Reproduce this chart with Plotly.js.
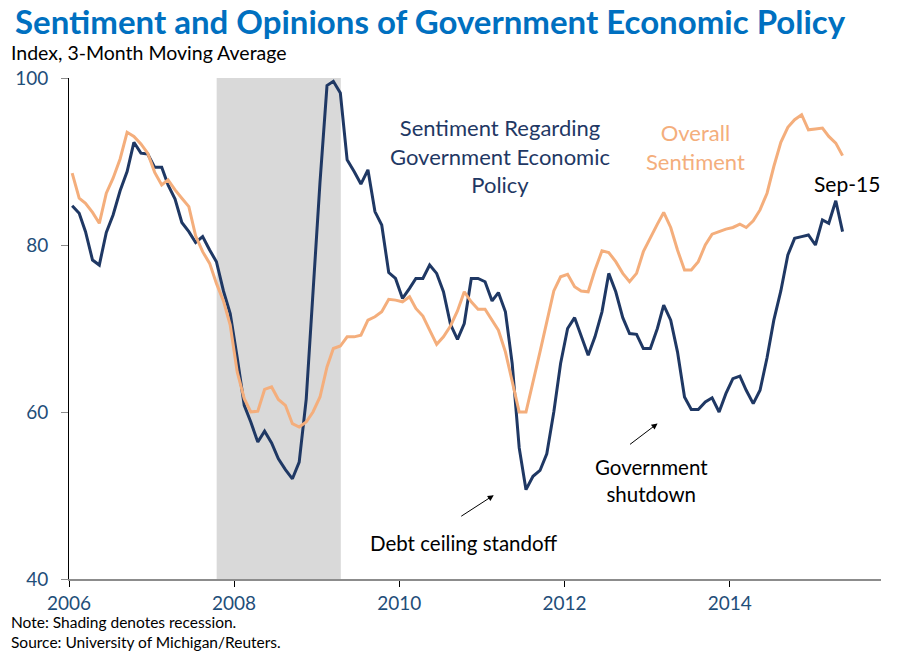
<!DOCTYPE html>
<html>
<head>
<meta charset="utf-8">
<script src="https://cdn.plot.ly/plotly-3.0.1.min.js"></script>
<style>html,body{margin:0;padding:0;background:#fff;}#chart{width:900px;height:653px;}</style>
</head>
<body>
<div id="chart"></div>
<script>
// Monthly observations (3-month moving average), first month Jan 2006
const startYear = 2006;
const govPolicy = [
  84.7, 83.8, 81.6, 78.2, 77.6, 81.5, 83.6, 86.5, 88.8, 92.3, 91.0, 90.9,
  89.3, 89.3, 87.2, 85.5, 82.7, 81.6, 80.3, 81.0, 79.4, 78.0, 74.5, 71.8,
  66.5, 60.8, 58.8, 56.4, 57.7, 56.3, 54.4, 53.1, 52.0, 54.0, 61.5, 75.0,
  87.5, 99.1, 99.6, 98.2, 90.2, 88.8, 87.3, 89.0, 84.0, 82.4, 76.7, 76.0,
  73.6, 74.8, 76.0, 76.0, 77.6, 76.6, 74.4, 70.5, 68.7, 70.6, 76.0, 76.0,
  75.6, 73.3, 74.3, 72.0, 65.8, 55.7, 50.7, 52.3, 53.0, 55.0, 60.0, 65.8,
  70.0, 71.3, 69.0, 66.8, 69.0, 72.0, 76.6, 74.4, 71.3, 69.4, 69.3, 67.6,
  67.6, 70.0, 72.8, 71.0, 67.2, 61.8, 60.3, 60.3, 61.2, 61.7, 60.0, 62.2,
  64.0, 64.3, 62.6, 61.0, 62.6, 66.5, 71.0, 74.5, 78.8, 80.8, 81.0, 81.2,
  80.0, 83.0, 82.6, 85.3, 81.6
];
const overall = [
  88.6, 85.6, 85.0, 83.9, 82.6, 86.2, 88.0, 90.3, 93.5, 93.0, 92.1, 91.0,
  88.7, 87.2, 87.8, 86.6, 85.6, 84.6, 81.1, 79.2, 77.8, 75.4, 73.3, 70.4,
  64.8, 61.6, 60.0, 60.1, 62.7, 63.0, 61.5, 60.8, 58.6, 58.2, 58.8, 60.0,
  61.8, 65.4, 67.6, 67.9, 69.0, 69.0, 69.2, 71.0, 71.4, 72.0, 73.5, 73.4,
  73.2, 73.8, 72.4, 71.5, 69.8, 68.1, 69.0, 70.3, 72.1, 74.4, 73.2, 72.3,
  72.3, 71.0, 69.8, 67.2, 63.8, 60.0, 60.0, 63.8, 67.2, 70.8, 74.5, 76.2,
  76.5, 75.0, 74.5, 74.4, 77.0, 79.3, 79.1, 78.0, 76.6, 75.6, 76.6, 79.2,
  80.9, 82.5, 83.9, 82.1, 79.4, 77.0, 77.0, 78.0, 80.0, 81.3, 81.6, 81.9,
  82.1, 82.5, 82.1, 82.9, 84.2, 86.2, 89.4, 92.3, 94.1, 95.0, 95.6, 93.8,
  93.9, 94.0, 93.0, 92.2, 90.7
];
const recession = ['2007-10-16', '2009-04-17'];
const yTicks = [40, 60, 80, 100];
const xTickYears = ['2006', '2008', '2010', '2012', '2014'];

const months = govPolicy.map(function (_, i) {
  const y = startYear + Math.floor(i / 12);
  const m = (i % 12) + 1;
  return y + '-' + (m < 10 ? '0' + m : m) + '-15';
});

const NAVY = '#1F3864';
const ORANGE = '#F4AE7C';
const TICKBLUE = '#1F4E79';
const FONT = 'Lato, "Open Sans", sans-serif';

const traces = [
  {x: months, y: govPolicy, type: 'scatter', mode: 'lines', name: 'Sentiment Regarding Government Economic Policy',
   line: {color: NAVY, width: 3}, hoverinfo: 'skip'},
  {x: months, y: overall, type: 'scatter', mode: 'lines', name: 'Overall Sentiment',
   line: {color: ORANGE, width: 3}, hoverinfo: 'skip'}
];

const layout = {
  width: 900, height: 653,
  margin: {l: 69, r: 19, t: 78, b: 74},
  paper_bgcolor: '#fff', plot_bgcolor: '#fff',
  showlegend: false,
  font: {family: FONT, color: '#000'},
  title: {
    text: 'Sentiment and Opinions of Government Economic Policy',
    font: {family: FONT, size: 33, color: '#0070C0', weight: 700},
    x: 15 / 900, xref: 'container', xanchor: 'left',
    y: 1 - 22 / 653, yref: 'container', yanchor: 'middle'
  },
  xaxis: {
    type: 'date',
    range: ['2006-01-01', '2015-11-01'],
    tickvals: xTickYears.map(function (y) { return y + '-01-01'; }),
    ticktext: xTickYears,
    ticks: 'outside', ticklen: 6, tickcolor: '#000', tickwidth: 1,
    showline: true, linecolor: '#8C8C8C', linewidth: 2,
    showgrid: false, zeroline: false,
    tickfont: {family: FONT, size: 19, color: TICKBLUE}
  },
  yaxis: {
    range: [40, 100],
    tickvals: yTicks,
    ticks: 'outside', ticklen: 7, tickcolor: '#8C8C8C', tickwidth: 1,
    showline: true, linecolor: '#000', linewidth: 1,
    showgrid: false, zeroline: false,
    ticklabelstandoff: 9,
    tickfont: {family: FONT, size: 19, color: TICKBLUE}
  },
  shapes: [{
    type: 'rect', xref: 'x', yref: 'y', layer: 'below',
    x0: recession[0], x1: recession[1], y0: 40, y1: 100,
    fillcolor: '#D9D9D9', line: {width: 0}
  }],
  annotations: [
    {xref: 'paper', yref: 'paper', x: -0.0733, y: 1.0505, xanchor: 'left', yanchor: 'middle',
     text: 'Index, 3-Month Moving Average', showarrow: false, font: {family: FONT, size: 19.5, color: '#000'}},
    {xref: 'paper', yref: 'paper', x: 0.5305, y: 0.8452, xanchor: 'center', yanchor: 'middle',
     text: 'Sentiment Regarding<br>Government Economic<br>Policy', showarrow: false,
     font: {family: FONT, size: 22, color: NAVY}},
    {xref: 'paper', yref: 'paper', x: 0.7714, y: 0.8632, xanchor: 'center', yanchor: 'middle',
     text: 'Overall<br>Sentiment', showarrow: false, font: {family: FONT, size: 22, color: ORANGE}},
    {xref: 'paper', yref: 'paper', x: 0.9581, y: 0.790, xanchor: 'center', yanchor: 'middle',
     text: 'Sep-15', showarrow: false, font: {family: FONT, size: 21, color: '#000'}},
    {xref: 'paper', yref: 'paper', x: 0.4855, y: 0.0713, xanchor: 'center', yanchor: 'middle',
     text: 'Debt ceiling standoff', showarrow: false, font: {family: FONT, size: 20.5, color: '#000'}},
    {xref: 'paper', yref: 'paper', x: 0.7172, y: 0.1971, xanchor: 'center', yanchor: 'middle',
     text: 'Government<br>shutdown', showarrow: false, font: {family: FONT, size: 20.5, color: '#000'}},
    {xref: 'paper', yref: 'paper', x: 0.5231, y: 0.1673, text: '', showarrow: true,
     ax: -34, ay: 22, arrowhead: 2, arrowsize: 1.2, arrowwidth: 1, arrowcolor: '#000'},
    {xref: 'paper', yref: 'paper', x: 0.7248, y: 0.3104, text: '', showarrow: true,
     ax: -29, ay: 22, arrowhead: 2, arrowsize: 1.2, arrowwidth: 1, arrowcolor: '#000'},
    {xref: 'paper', yref: 'paper', x: -0.0733, y: -0.0865, xanchor: 'left', yanchor: 'middle',
     text: 'Note: Shading denotes recession.', showarrow: false, font: {family: FONT, size: 15.5, color: '#000'}},
    {xref: 'paper', yref: 'paper', x: -0.0733, y: -0.1265, xanchor: 'left', yanchor: 'middle',
     text: 'Source: University of Michigan/Reuters.', showarrow: false, font: {family: FONT, size: 15.5, color: '#000'}}
  ]
};

Plotly.newPlot('chart', traces, layout, {displayModeBar: false, staticPlot: true});
</script>
</body>
</html>
